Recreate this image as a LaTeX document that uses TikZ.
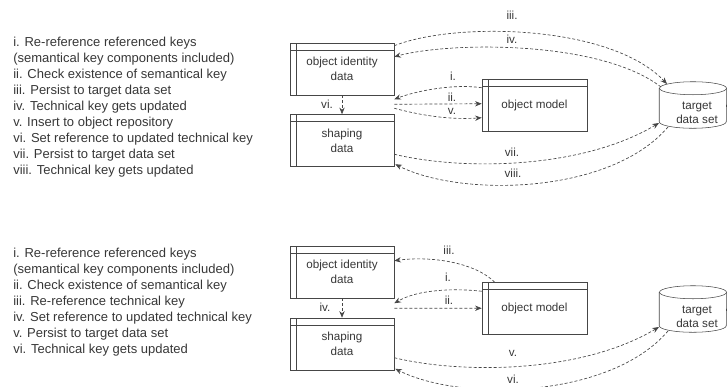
\documentclass[tikz,border=0pt]{standalone}
\usepackage{fontspec}
\setmainfont{Liberation Sans}
\usetikzlibrary{arrows.meta, positioning, calc}
\definecolor{linegray}{RGB}{70,70,70}
\definecolor{textgray}{RGB}{55,55,55}

\begin{document}
\begin{tikzpicture}[
    x=0.75pt, y=-0.75pt,
    store/.style={rectangle, draw=linegray, minimum width=78pt, minimum height=39pt, inner sep=0pt,
        align=center, text=textgray, font=\fontsize{8.75}{11}\selectfont,
        path picture={
            \draw[linegray] ([yshift=-5.25pt]path picture bounding box.north west) -- ([yshift=-5.25pt]path picture bounding box.north east);
            \draw[linegray] ([xshift=4.5pt]path picture bounding box.north west) -- ([xshift=4.5pt]path picture bounding box.south west);
        }},
    dataset/.style={rectangle, minimum width=50.25pt, minimum height=34.5pt, inner sep=0pt},
    dstext/.style={align=center, inner sep=0pt, text=textgray, font=\fontsize{8.75}{10.5}\selectfont},
    legend/.style={anchor=north west, align=left, inner sep=0pt, text=textgray, font=\fontsize{9.75}{12}\selectfont},
    lbl/.style={inner sep=0pt, text=textgray, font=\fontsize{8.75}{10}\selectfont},
    flow/.style={draw=linegray, line width=0.5pt, dash pattern=on 2.25pt off 1.5pt, -{Stealth[length=5pt,width=4pt]}}
]
    \useasboundingbox (0,0) rectangle (727,386);

    % --- first variant -------------------------------------------------
    \node[legend] (steps1) at (13,37) {
        i. Re-reference referenced keys\\
        (semantical key components included)\\
        ii. Check existence of semantical key\\
        iii. Persist to target data set\\
        iv. Technical key gets updated\\
        v. Insert to object repository\\
        vi. Set reference to updated technical key\\
        vii. Persist to target data set\\
        viii. Technical key gets updated
    };

    \node[store] (oid1) at (342,69) {object identity\\data};
    \node[store] (sd1) at (342,140.5) {shaping\\data};
    \node[store, minimum width=78.75pt] (om1) at (534.5,105) {object model};
    \node[dataset] (tds1) at (693,105) {};
    \node[dstext] (tds1txt) at ($(tds1.center)+(4,8)$) {target\\data set};

    \draw[flow] ($(oid1.north east)+(0,3)$) .. controls +(60,-24) and +(-57,-60) .. ($(tds1.center)+(-26,-21)$);
    \draw[flow] ($(tds1.center)+(-32,-18)$) .. controls +(-61,-47) and +(56,-15) .. ($(oid1.north east)+(0,14)$);
    \draw[flow] ($(om1.north west)+(0,9)$) .. controls +(-27,-4) and +(24,-9) .. ($(oid1.south east)+(0,4)$);
    \draw[flow] ($(oid1.south east)+(0,9)$) -- ($(om1.north west)+(0,25)$);
    \draw[flow] ($(oid1.south east)+(0,13)$) .. controls +(30,8) and +(-30,2) .. ($(om1.north west)+(0,39)$);
    \draw[flow] (oid1.south) -- (sd1.north);
    \draw[flow] ($(sd1.north east)+(0,40)$) .. controls +(66,16) and +(-79,47) .. ($(tds1.center)+(-34,18)$);
    \draw[flow] ($(tds1.center)+(-25,22)$) .. controls +(-58,68) and +(65,33) .. ($(sd1.north east)+(1,50)$);

    \node[lbl] (l1iii) at (512,15) {iii.};
    \node[lbl] (l1iv) at (512,39) {iv.};
    \node[lbl] (l1i) at (453,76) {i.};
    \node[lbl] (l1ii) at (452,97) {ii.};
    \node[lbl] (l1v) at (452,111) {v.};
    \node[lbl] (l1vi) at (327,104) {vi.};
    \node[lbl] (l1vii) at (512,152) {vii.};
    \node[lbl] (l1viii) at (513,173) {viii.};

    % --- second variant ------------------------------------------------
    \node[legend] (steps2) at (13,248) {
        i. Re-reference referenced keys\\
        (semantical key components included)\\
        ii. Check existence of semantical key\\
        iii. Re-reference technical key\\
        iv. Set reference to updated technical key\\
        v. Persist to target data set\\
        vi. Technical key gets updated
    };

    \node[store] (oid2) at (342,272) {object identity\\data};
    \node[store] (sd2) at (342,344) {shaping\\data};
    \node[store, minimum width=78.75pt] (om2) at (534.5,308.5) {object model};
    \node[dataset] (tds2) at (693,309) {};
    \node[dstext] (tds2txt) at ($(tds2.center)+(4,8)$) {target\\data set};

    \draw[flow] ($(om2.north west)+(13,0)$) .. controls +(-20,-20) and +(36,-5) .. ($(oid2.north east)+(0,15)$);
    \draw[flow] ($(om2.north west)+(0,9)$) .. controls +(-27,-3) and +(24,-14) .. ($(oid2.south east)+(0,5)$);
    \draw[flow] ($(oid2.south east)+(0,10)$) -- ($(om2.north west)+(0,26)$);
    \draw[flow] (oid2.south) -- (sd2.north);
    \draw[flow] ($(sd2.north east)+(0,40)$) .. controls +(66,16) and +(-79,47) .. ($(tds2.center)+(-34,18)$);
    \draw[flow] ($(tds2.center)+(-25,22)$) .. controls +(-58,68) and +(65,33) .. ($(sd2.north east)+(1,51)$);

    \node[lbl] (l2iii) at (449,250) {iii.};
    \node[lbl] (l2i) at (448,277) {i.};
    \node[lbl] (l2ii) at (449,300) {ii.};
    \node[lbl] (l2iv) at (325,307) {iv.};
    \node[lbl] (l2v) at (513,353) {v.};
    \node[lbl] (l2vi) at (513,379) {vi.};

    % cylinder outlines for the two data sets
    \foreach \ds in {tds1, tds2} {
        \draw[linegray] ($(\ds.north west)+(0,6.5)$) -- ($(\ds.south west)+(0,-6.5)$)
            arc[start angle=180, end angle=360, x radius=25.125pt, y radius=4.875pt]
            -- ($(\ds.north east)+(0,6.5)$);
        \draw[linegray] ($(\ds.north)+(0,6.5)$) ellipse [x radius=25.125pt, y radius=4.875pt];
    }
\end{tikzpicture}
\end{document}
